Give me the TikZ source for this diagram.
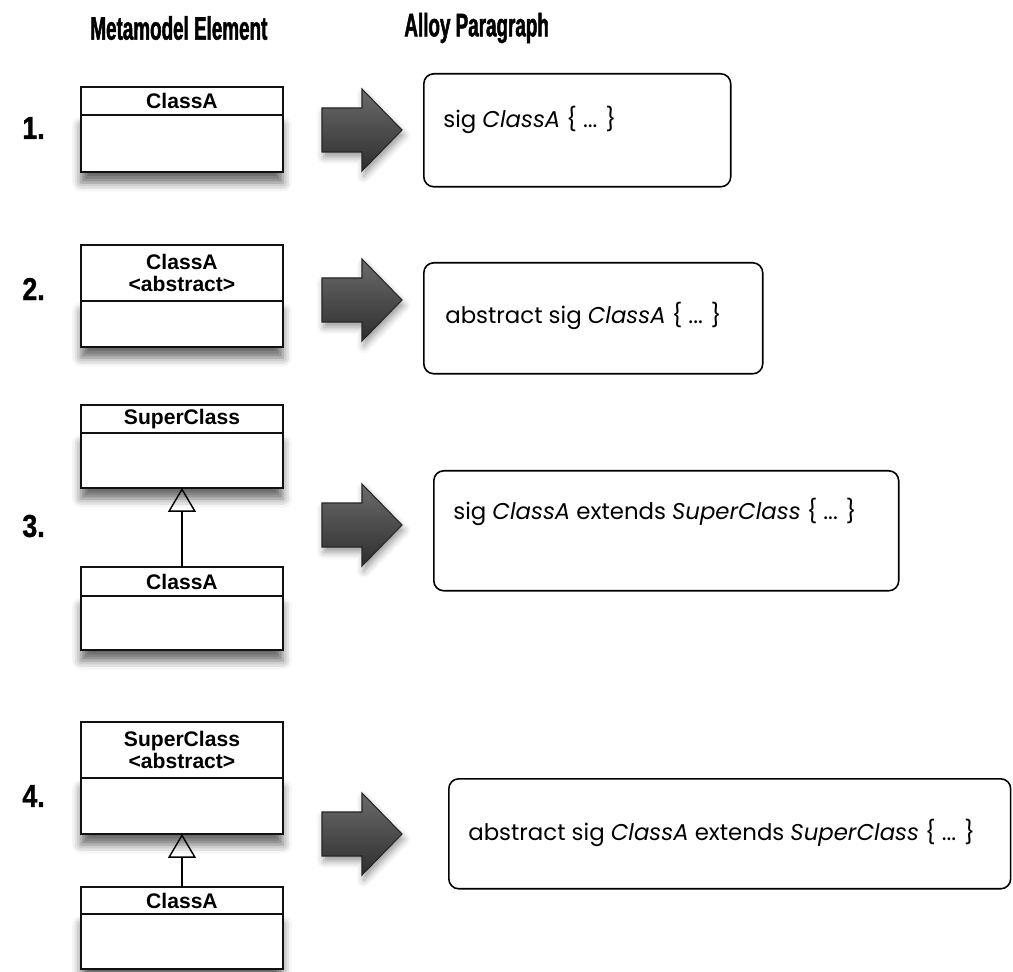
\documentclass[tikz,border=0pt]{standalone}
\usepackage{fontspec}
\setmainfont{Liberation Sans}
\newfontfamily\headfont{Liberation Sans}[FakeStretch=0.58,FakeBold=1.4]
\newfontfamily\numfont{Liberation Sans}[FakeStretch=0.85,FakeBold=1]
\newfontfamily\alloyfont{Poppins}
\usetikzlibrary{arrows.meta,positioning,shadows.blur}
\definecolor{umlline}{HTML}{111111}

\begin{document}
\begin{tikzpicture}[x=0.02cm,y=-0.02cm,
  heading/.style={font=\headfont\bfseries\fontsize{18.5}{20}\selectfont,anchor=west,inner sep=0pt},
  rownum/.style={font=\numfont\bfseries\fontsize{18}{20}\selectfont,anchor=west,inner sep=0pt},
  umlhead/.style={draw=umlline,fill=white,line width=1.1pt,outer sep=0pt,inner sep=0pt,
    minimum width=4.04cm,align=center,anchor=north west,
    font=\bfseries\fontsize{12}{13.5}\selectfont},
  umlbody/.style={draw=umlline,fill=white,line width=1.1pt,outer sep=0pt,inner sep=0pt,
    minimum width=4.04cm,
    blur shadow={shadow xshift=0pt,shadow yshift=-6pt,shadow blur radius=5pt,shadow opacity=60}},
  genarrow/.style={line width=0.8pt,-{Triangle[open,length=13.6pt,width=15.9pt]}},
  bigarrow/.style={draw=black!85,line width=0.6pt,line join=miter,
    top color=black!58,middle color=black!45,bottom color=black!82,
    blur shadow={shadow xshift=1pt,shadow yshift=-3pt,shadow blur radius=4pt,shadow opacity=40}},
  alloybox/.style={draw,line width=0.9pt,rounded corners=0.2cm,anchor=north west},
  alloytext/.style={font=\alloyfont\fontsize{13}{15}\selectfont,anchor=base west,inner sep=0pt}]
  \useasboundingbox (0,0) rectangle (1013,972);

  % column titles
  \node[heading] (hmeta) at (90,28) {Metamodel Element};
  \node[heading] (halloy) at (404,28) {Alloy Paragraph};

  % row numbers
  \node[rownum] (n1) at (22,128) {1.};
  \node[rownum] (n2) at (22,289) {2.};
  \node[rownum] (n3) at (22,526) {3.};
  \node[rownum] (n4) at (22,796) {4.};

  % 1. plain class
  \node[umlhead,minimum height=0.56cm] (c1) at (81,87) {ClassA};
  \node[umlbody,minimum height=1.14cm,below=0pt of c1] (c1b) {};

  % 2. abstract class
  \node[umlhead,minimum height=1.12cm] (c2) at (81,245) {ClassA\\[-1pt]<abstract>};
  \node[umlbody,minimum height=0.92cm,below=0pt of c2] (c2b) {};

  % 3. subclass
  \node[umlhead,minimum height=0.56cm] (s3) at (81,405) {SuperClass};
  \node[umlbody,minimum height=1.1cm,below=0pt of s3] (s3b) {};
  \node[umlhead,minimum height=0.58cm] (c3) at (81,567) {ClassA};
  \node[umlbody,minimum height=1.08cm,below=0pt of c3] (c3b) {};
  \draw[genarrow] (c3.north) -- (s3b.south);

  % 4. subclass of abstract class
  \node[umlhead,minimum height=1.12cm] (s4) at (81,722) {SuperClass\\[-1pt]<abstract>};
  \node[umlbody,minimum height=1.12cm,below=0pt of s4] (s4b) {};
  \node[umlhead,minimum height=0.54cm] (c4) at (81,887) {ClassA};
  \node[umlbody,minimum height=1.1cm,below=0pt of c4] (c4b) {};
  \draw[genarrow] (c4.north) -- (s4b.south);

  % mapping arrows
  \foreach \y in {130,300,525,834}
    \path[bigarrow] (322,\y-22) -- (362,\y-22) -- (362,\y-41) -- (402,\y)
      -- (362,\y+41) -- (362,\y+22) -- (322,\y+22) -- cycle;

  % alloy paragraphs
  \node[alloybox,minimum width=6.14cm,minimum height=2.26cm] (p1) at (423,73) {};
  \node[alloytext] (t1) at (443,128) {sig \textit{ClassA} \{ ... \}};
  \node[alloybox,minimum width=6.78cm,minimum height=2.22cm] (p2) at (423,262) {};
  \node[alloytext] (t2) at (445,324) {abstract sig \textit{ClassA} \{ ... \}};
  \node[alloybox,minimum width=9.3cm,minimum height=2.4cm] (p3) at (433,470) {};
  \node[alloytext] (t3) at (453,520) {sig \textit{ClassA} extends \textit{SuperClass} \{ ... \}};
  \node[alloybox,minimum width=11.24cm,minimum height=2.2cm] (p4) at (448,778) {};
  \node[alloytext] (t4) at (468,840) {abstract sig \textit{ClassA} extends \textit{SuperClass} \{ ... \}};
\end{tikzpicture}
\end{document}
